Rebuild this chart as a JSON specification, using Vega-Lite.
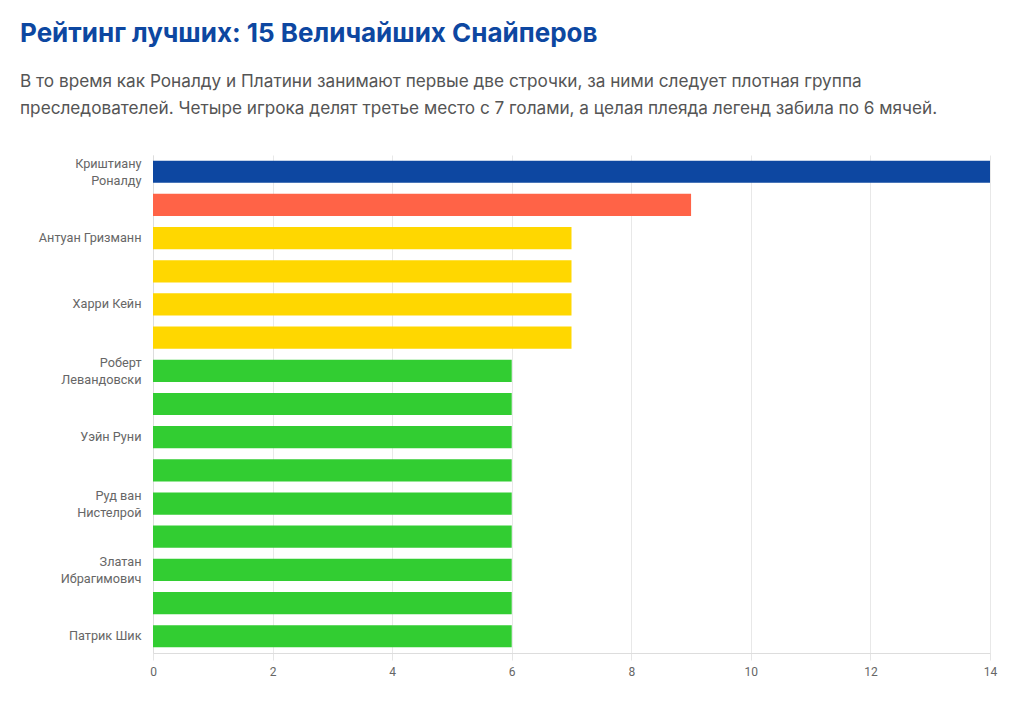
{
  "$schema": "https://vega.github.io/schema/vega-lite/v6.json",
  "width": 837,
  "height": 498,
  "autosize": {"type": "none"},
  "padding": {"left": 153, "top": 155, "right": 34, "bottom": 51},
  "background": "#ffffff",
  "title": {
    "text": "Рейтинг лучших: 15 Величайших Снайперов",
    "subtitle": [
      "В то время как Роналду и Платини занимают первые две строчки, за ними следует плотная группа",
      "преследователей. Четыре игрока делят третье место с 7 голами, а целая плеяда легенд забила по 6 мячей."
    ],
    "anchor": "start",
    "frame": "group",
    "dx": -133,
    "offset": 38,
    "font": "Inter",
    "fontSize": 26,
    "fontWeight": "bold",
    "color": "#0D47A1",
    "subtitleFont": "Inter",
    "subtitleFontSize": 17.2,
    "subtitleColor": "#555555",
    "subtitleLineHeight": 27,
    "subtitlePadding": 26
  },
  "data": {
    "values": [
      {"player": "Криштиану Роналду", "goals": 14},
      {"player": "Мишель Платини", "goals": 9},
      {"player": "Антуан Гризманн", "goals": 7},
      {"player": "Алан Ширер", "goals": 7},
      {"player": "Харри Кейн", "goals": 7},
      {"player": "Альваро Мората", "goals": 7},
      {"player": "Роберт Левандовски", "goals": 6},
      {"player": "Тьерри Анри", "goals": 6},
      {"player": "Уэйн Руни", "goals": 6},
      {"player": "Патрик Клюйверт", "goals": 6},
      {"player": "Руд ван Нистелрой", "goals": 6},
      {"player": "Нуно Гомеш", "goals": 6},
      {"player": "Златан Ибрагимович", "goals": 6},
      {"player": "Ромелу Лукаку", "goals": 6},
      {"player": "Патрик Шик", "goals": 6}
    ]
  },
  "mark": {"type": "bar"},
  "encoding": {
    "y": {
      "field": "player",
      "type": "nominal",
      "sort": null,
      "scale": {"paddingInner": 0.33, "paddingOuter": 0.17},
      "axis": {
        "title": null,
        "values": ["Криштиану Роналду", "Антуан Гризманн", "Харри Кейн", "Роберт Левандовски", "Уэйн Руни", "Руд ван Нистелрой", "Златан Ибрагимович", "Патрик Шик"],
        "labelExpr": "length(datum.label) > 15 ? [substring(datum.label, 0, lastindexof(datum.label, ' ')), substring(datum.label, lastindexof(datum.label, ' ') + 1)] : datum.label",
        "labelOffset": {"condition": {"test": "length(datum.value) > 15", "value": -8}, "value": 0},
        "ticks": false,
        "labelPadding": 12,
        "labelFont": "Roboto",
        "labelFontSize": 12.7,
        "labelColor": "#666666",
        "labelLineHeight": 17,
        "domainColor": "#dddddd",
        "grid": false
      }
    },
    "x": {
      "field": "goals",
      "type": "quantitative",
      "scale": {"domain": [0, 14], "nice": false},
      "axis": {
        "title": null,
        "values": [0, 2, 4, 6, 8, 10, 12, 14],
        "labelFlush": false,
        "labelFont": "Roboto",
        "labelFontSize": 12,
        "labelColor": "#666666",
        "labelPadding": 6,
        "tickColor": "#e5e5e5",
        "tickSize": 7,
        "gridColor": "#e8e8e8",
        "domainColor": "#dddddd"
      }
    },
    "color": {
      "field": "goals",
      "type": "nominal",
      "scale": {"domain": [14, 9, 7, 6], "range": ["#0D47A1", "#FF6347", "#FFD700", "#32CD32"]},
      "legend": null
    }
  },
  "config": {"view": {"stroke": null}}
}
